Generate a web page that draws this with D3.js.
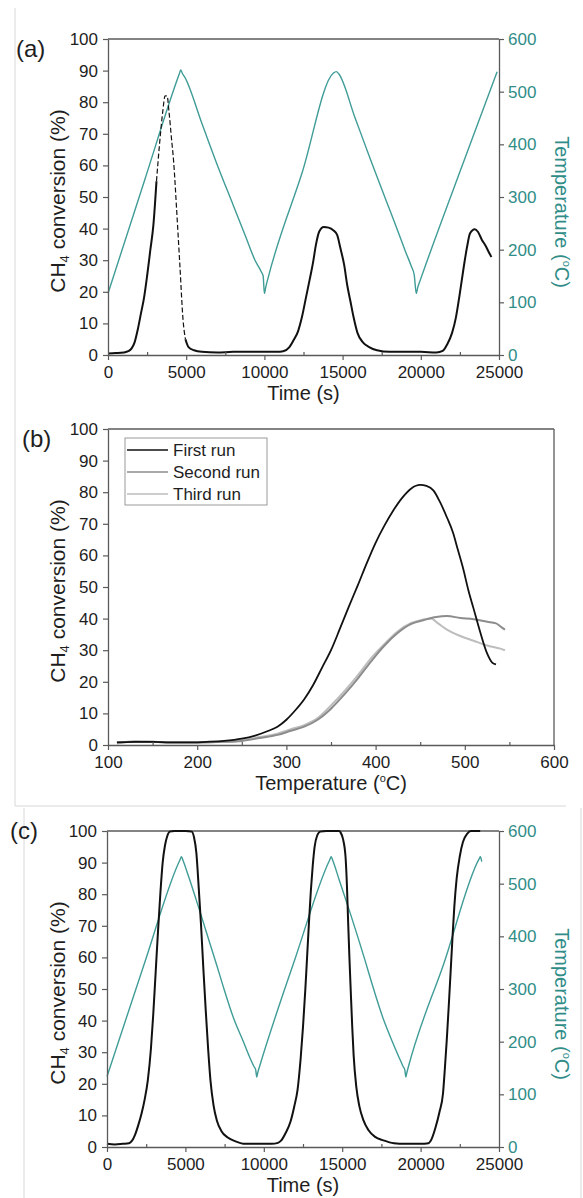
<!DOCTYPE html>
<html><head><meta charset="utf-8">
<script src="https://cdn.jsdelivr.net/npm/d3@7"></script>
<style>
body{margin:0;background:#fff;}
svg{display:block;font-family:"Liberation Sans",Arial,sans-serif;}
</style></head><body>
<svg id="c" width="583" height="1198"></svg>
<script>
// ---------- DATA ----------
const convTicks = [0,10,20,30,40,50,60,70,80,90,100];
const tempTicks = [0,100,200,300,400,500,600];
const timeTicks = [0,5000,10000,15000,20000,25000];
const timeMinor = [2500,7500,12500,17500,22500];
const tempXTicks = [100,200,300,400,500,600];
const tempXMinor = [150,250,350,450,550];
const legendLabels = ["First run","Second run","Third run"];

// (a) time [s], CH4 conversion [%]
const convA = [[0,0.5],[500,0.6],[1000,0.8],[1300,1.2],[1500,2],[1700,4],[1900,8],[2100,13],[2300,18],[2500,25],[2700,33],[2900,41],[3100,55],[3300,67],[3500,77],[3650,82],[3780,82],[3900,77],[4050,69],[4200,61],[4400,45],[4600,28],[4800,11],[4950,5],[5150,2.5],[5500,1.5],[6000,1],[7000,0.8],[8000,1],[9000,1],[10000,1],[10800,1],[11200,1.2],[11600,2.5],[11900,5],[12150,7.5],[12400,12],[12650,18],[12900,24],[13100,29],[13300,35],[13500,39],[13800,40.5],[14100,40.3],[14400,39.5],[14650,38],[14850,34],[15100,28.5],[15300,22],[15500,17],[15700,12],[15950,7],[16300,4],[16700,2.5],[17200,1.5],[18000,1],[19000,1],[20000,1],[21000,0.8],[21400,1.3],[21700,3.5],[22000,7],[22250,12],[22450,18],[22750,28],[22950,34],[23150,38.5],[23450,39.8],[23650,39],[23900,36.5],[24150,34.5],[24350,32.5],[24520,31]];
// (a) time [s], temperature [°C]
const tempA = [[0,117],[2300,328],[4550,533],[4650,541],[4750,535],[4900,528],[6000,440],[7000,360],[8000,285],[8800,225],[9400,180],[9800,158],[9920,150],[10000,117],[10080,128],[10250,148],[12400,345],[14400,535],[14600,538],[14750,534],[15800,450],[16800,370],[17800,292],[18500,238],[19000,198],[19400,168],[19580,152],[19710,117],[19800,128],[20000,145],[22400,340],[24880,538]];

// (b) temperature [°C], CH4 conversion [%]
const run1 = [[110,0.8],[130,1],[150,1],[170,0.8],[190,0.8],[210,1],[230,1.3],[250,2],[265,3],[280,4.5],[290,5.8],[300,8],[310,11],[320,14.5],[330,19],[340,24.5],[350,30],[360,36.8],[370,43.8],[380,50.5],[390,57.5],[400,64],[410,69.5],[420,74.3],[430,78.3],[440,81.2],[450,82.3],[457,82],[465,80.5],[472,77],[480,72],[487,67],[492,62],[498,56],[504,49],[510,43],[517,36],[525,29],[531,26],[535,25.5]];
const run2 = [[110,0.8],[130,1],[150,1],[170,0.8],[200,0.8],[230,1],[250,1.3],[270,2.2],[290,3.2],[305,4.5],[320,5.8],[335,8],[350,11.5],[365,16],[380,21],[395,26.5],[410,31.5],[425,35.5],[440,38.3],[455,39.6],[468,40.5],[480,40.8],[495,40.2],[510,39.8],[525,39],[535,38.5],[540,37.5],[545,36.5]];
const run3 = [[110,0.5],[130,1.2],[150,1],[170,0.8],[200,0.8],[230,1],[250,1.5],[270,2.5],[290,3.6],[305,5],[320,6.3],[335,8.5],[350,12.5],[365,17],[380,22],[395,27.5],[410,32],[425,36],[440,38.6],[452,39.6],[462,40],[470,38.5],[480,36.5],[495,34.5],[510,33],[525,31.5],[540,30.5],[545,30]];

// (c) time [s], CH4 conversion [%]
const convC = [[0,1],[500,0.8],[1000,1],[1400,1.2],[1600,2],[1800,4],[2000,7],[2200,10.5],[2400,15],[2600,21],[2800,31],[2950,42],[3100,55],[3250,68],[3400,80],[3550,90],[3700,95.5],[3850,98.5],[4000,99.8],[4300,100],[5000,100],[5400,99.8],[5550,98],[5700,93],[5850,82],[6000,70],[6150,56],[6300,43],[6450,31],[6600,21],[6800,13],[7000,8.5],[7300,5],[7700,3],[8200,1.8],[8800,1],[9500,1],[10500,1],[10900,1.3],[11100,2],[11400,4.5],[11700,8],[11950,13],[12150,18],[12350,28],[12500,38],[12650,50],[12760,60],[12880,71],[13000,81],[13120,89],[13240,95],[13400,98.5],[13600,99.8],[14000,100],[14800,100],[14900,99.5],[15050,97.5],[15210,92],[15300,83],[15380,71],[15460,60],[15540,50],[15640,38],[15730,29],[15900,19],[16090,13],[16350,8.5],[16680,5.3],[17100,3.2],[17630,2.1],[18300,1.2],[19000,1],[20000,1],[20500,1.2],[20700,2.5],[20960,6.3],[21200,11],[21430,17],[21550,25],[21670,34],[21800,45],[21910,55],[22030,66],[22150,76],[22300,85],[22500,92],[22700,96.5],[22980,99.2],[23200,100],[23800,100]];
// (c) time [s], temperature [°C]
const tempC = [[0,134],[2400,350],[4650,545],[4750,551],[4850,544],[5200,514],[6000,440],[7000,345],[7410,305],[8130,240],[8700,200],[9080,172],[9390,152],[9480,147],[9550,133],[9620,142],[9700,150],[12000,358],[14200,545],[14300,551],[14400,544],[14800,508],[15500,445],[16500,350],[16900,310],[17600,245],[18200,200],[18600,172],[18900,152],[18990,147],[19060,133],[19130,142],[19200,150],[21500,350],[23750,548],[23810,551],[23900,542]];

// ---------- DRAWING ----------
const svg = d3.select("#c");
const AX = "#5a5a5a", TEAL = "#3f9c97", TEALTXT = "#318d88", TXT = "#1e1e1e";
const TICKF = 17, TITLEF = 20;
const fmt = d3.format("d");

// faint frame lines of the original figure
const frame = [[15,8,15,806],[15,806,566,806],[24,808,24,1198],[581,808,581,1198]];
svg.selectAll("line.frame").data(frame).join("line").attr("class","frame")
  .attr("x1",d=>d[0]).attr("y1",d=>d[1]).attr("x2",d=>d[2]).attr("y2",d=>d[3])
  .attr("stroke","#d8d8d8").attr("stroke-width",1);

function styleAxis(g, color){
  g.selectAll(".domain").attr("stroke",AX).attr("stroke-width",1.3);
  g.selectAll(".tick line").attr("stroke",AX).attr("stroke-width",1.2);
  g.selectAll(".tick text").attr("fill",color).attr("font-size",TICKF)
   .attr("font-family",'"Liberation Sans",Arial,sans-serif');
}

function panel(p){
  const x = d3.scaleLinear().domain(p.xDom).range([p.x0,p.x1]);
  const y = d3.scaleLinear().domain([0,100]).range([p.y1,p.y0]);
  const yT = d3.scaleLinear().domain([0,600]).range([p.y1,p.y0]);
  const g = svg.append("g");

  g.append("line").attr("x1",p.x0).attr("x2",p.x1).attr("y1",p.y0).attr("y2",p.y0)
    .attr("stroke",AX).attr("stroke-width",1.3);
  if(!p.temp){
    g.append("line").attr("x1",p.x1).attr("x2",p.x1).attr("y1",p.y0).attr("y2",p.y1)
      .attr("stroke",AX).attr("stroke-width",1.3);
  }

  const mk = def => d3.line().x(d=>x(d[0])).y(d=>y(d[1])).curve(d3.curveMonotoneX).defined(def);
  if(p.temp){
    const lineT = d3.line().x(d=>x(d[0])).y(d=>yT(d[1])).curve(d3.curveMonotoneX);
    g.append("path").datum(p.temp).attr("d",lineT).attr("fill","none")
      .attr("stroke",TEAL).attr("stroke-width",1.4);
  }
  p.series.forEach(s=>{
    if(s.dash){
      g.append("path").datum(s.data).attr("d",mk(d=>d[0]<=s.dash[0]||d[0]>=s.dash[1]))
        .attr("fill","none").attr("stroke",s.color).attr("stroke-width",s.w);
      g.append("path").datum(s.data).attr("d",mk(d=>d[0]>=s.dash[0]&&d[0]<=s.dash[1]))
        .attr("fill","none").attr("stroke",s.color).attr("stroke-width",1.2)
        .attr("stroke-dasharray","5,2.5");
    } else {
      g.append("path").datum(s.data).attr("d",mk(()=>true)).attr("fill","none")
        .attr("stroke",s.color).attr("stroke-width",s.w).attr("stroke-linejoin","round");
    }
  });

  const gx = g.append("g").attr("transform",`translate(0,${p.y1})`)
    .call(d3.axisBottom(x).tickValues(p.xTicks).tickFormat(fmt).tickSize(5).tickPadding(6).tickSizeOuter(0));
  styleAxis(gx, TXT);
  const gxm = g.append("g").attr("transform",`translate(0,${p.y1})`)
    .call(d3.axisBottom(x).tickValues(p.xMinor).tickSize(-3).tickFormat("").tickSizeOuter(0));
  gxm.select(".domain").remove(); styleAxis(gxm, TXT);
  const gy = g.append("g").attr("transform",`translate(${p.x0},0)`)
    .call(d3.axisLeft(y).tickValues(convTicks).tickFormat(fmt).tickSize(5).tickPadding(5).tickSizeOuter(0));
  styleAxis(gy, TXT);
  if(p.temp){
    const gr = g.append("g").attr("transform",`translate(${p.x1},0)`)
      .call(d3.axisRight(yT).tickValues(tempTicks).tickFormat(fmt).tickSize(5).tickPadding(4).tickSizeOuter(0));
    styleAxis(gr, TEALTXT);
  }

  const cy = (p.y0+p.y1)/2 + 4;
  const lt = g.append("text").attr("transform",`translate(65,${cy}) rotate(-90)`)
    .attr("text-anchor","middle").attr("font-size",21).attr("fill",TXT);
  lt.append("tspan").text("CH");
  lt.append("tspan").attr("font-size",13).attr("dy",4).text("4");
  lt.append("tspan").attr("dy",-4).text(" conversion (%)");

  if(p.temp){
    const rt = g.append("text").attr("transform",`translate(555,${(p.y0+p.y1)/2+15}) rotate(90)`)
      .attr("text-anchor","middle").attr("font-size",TITLEF).attr("fill",TEALTXT);
    rt.append("tspan").text("Temperature (");
    rt.append("tspan").attr("font-size",11).attr("dy",-8).text("o");
    rt.append("tspan").attr("dy",8).text("C)");
  }

  const bt = g.append("text").attr("x",(p.x0+p.x1)/2).attr("y",p.y1+45)
    .attr("text-anchor","middle").attr("font-size",TITLEF).attr("fill",TXT);
  if(p.xTitleDeg){
    bt.append("tspan").text("Temperature  (");
    bt.append("tspan").attr("font-size",11).attr("dy",-8).text("o");
    bt.append("tspan").attr("dy",8).text("C)");
  } else bt.text(p.xTitle);

  g.append("text").attr("x",p.lx).attr("y",p.ly).attr("font-size",24).attr("fill",TXT).text(p.label);
}

panel({x0:108,x1:499,y0:39,y1:355,xDom:[0,25000],xTicks:timeTicks,xMinor:timeMinor,
  temp:tempA,series:[{data:convA,color:"#111",w:2,dash:[3100,4950]}],
  xTitle:"Time (s)",label:"(a)",lx:16,ly:57});

panel({x0:108,x1:554,y0:429,y1:745,xDom:[100,600],xTicks:tempXTicks,xMinor:tempXMinor,
  series:[{data:run3,color:"#bdbdbd",w:2},{data:run2,color:"#8c8c8c",w:2},{data:run1,color:"#111",w:1.8}],
  xTitleDeg:true,label:"(b)",lx:22,ly:447});

panel({x0:107,x1:499,y0:831,y1:1147,xDom:[0,25000],xTicks:timeTicks,xMinor:timeMinor,
  temp:tempC,series:[{data:convC,color:"#111",w:2}],
  xTitle:"Time (s)",label:"(c)",lx:10,ly:839});

const lg = svg.append("g");
lg.append("rect").attr("x",125).attr("y",438).attr("width",142).attr("height",67)
  .attr("fill","#fff").attr("stroke","#9a9a9a").attr("stroke-width",1);
const legColors = ["#111","#8c8c8c","#bdbdbd"];
legendLabels.forEach((t,i)=>{
  const yy = 450 + i*22;
  lg.append("line").attr("x1",127).attr("x2",168).attr("y1",yy).attr("y2",yy)
    .attr("stroke",legColors[i]).attr("stroke-width",1.3);
  lg.append("text").attr("x",173).attr("y",yy+6).attr("font-size",TICKF).attr("fill",TXT).text(t);
});
</script>
</body></html>
